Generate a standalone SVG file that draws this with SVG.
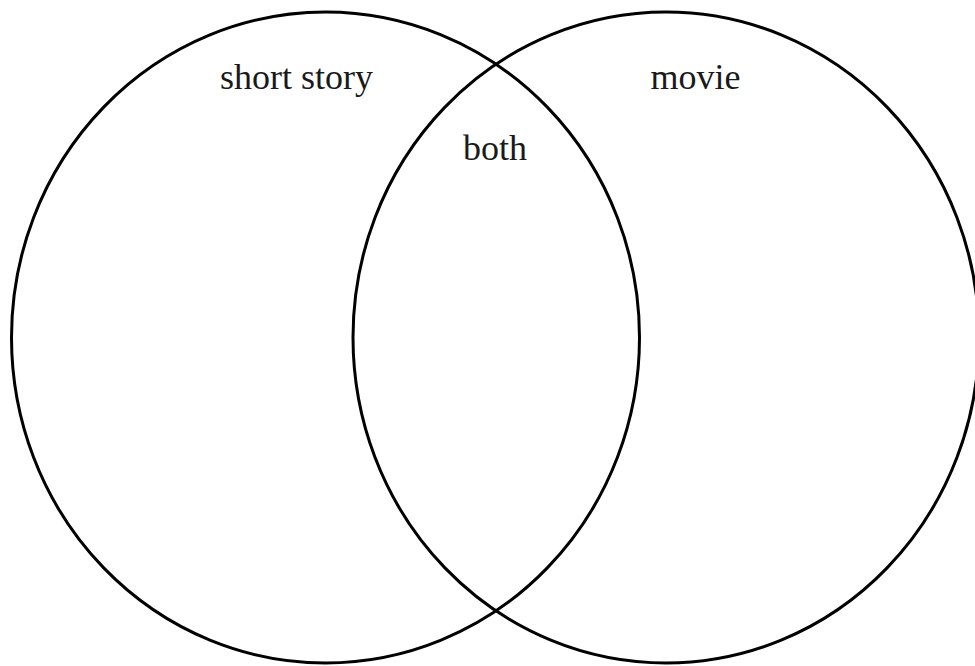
<svg xmlns="http://www.w3.org/2000/svg" width="975" height="666" viewBox="0 0 975 666">
<style>
.set{fill:none;stroke:#000;stroke-width:3}
.lbl{font-family:"Liberation Serif","Times New Roman",serif;font-size:36px;fill:#1a1a1a;text-anchor:middle}
</style>
<rect width="975" height="666" fill="#fff"/>
<g id="short-story">
<ellipse class="set" cx="325.5" cy="337.5" rx="314" ry="325.5"/>
<text class="lbl" x="296.5" y="89">short story</text>
</g>
<g id="movie">
<ellipse class="set" cx="666" cy="337.5" rx="313" ry="325.5"/>
<text class="lbl" x="695.5" y="89">movie</text>
</g>
<g id="both">
<text class="lbl" x="495" y="160">both</text>
</g>
<g id="connectors"/>
</svg>
